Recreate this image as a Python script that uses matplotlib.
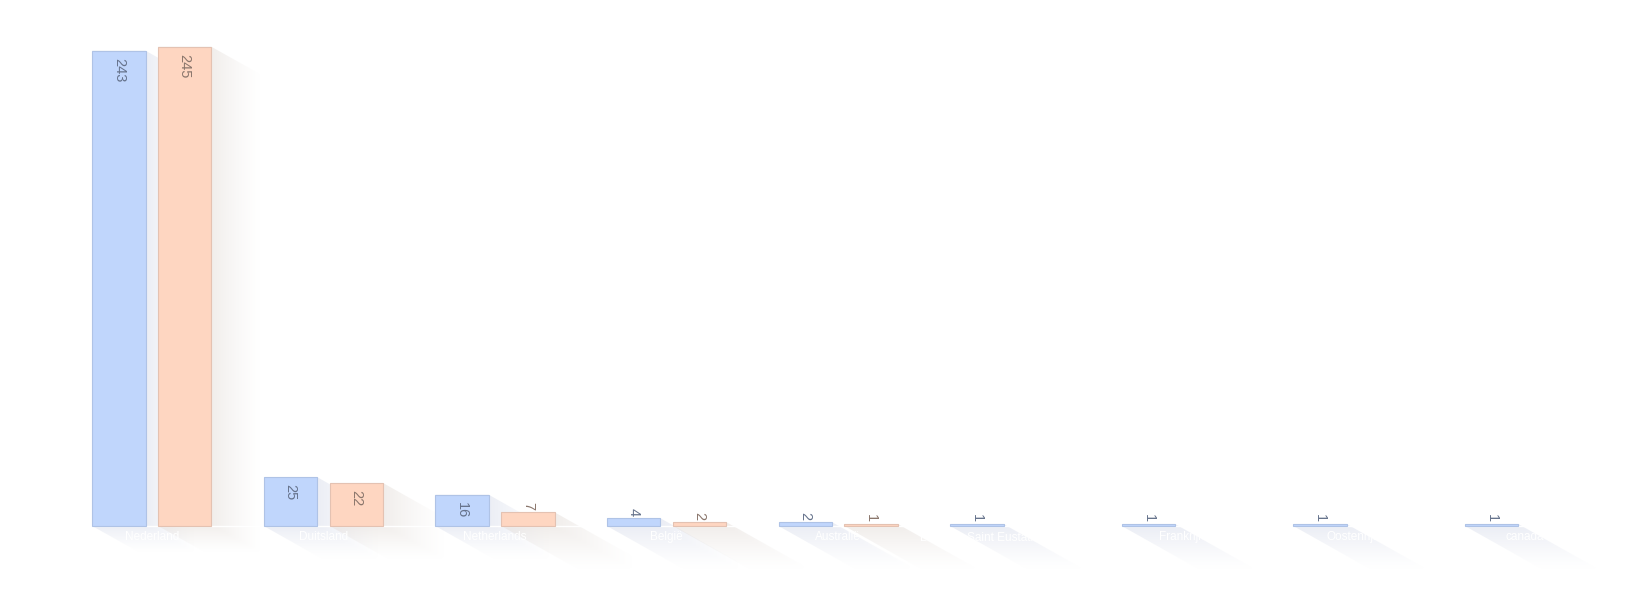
import numpy as np
import matplotlib
matplotlib.use("Agg")
import matplotlib.pyplot as plt
from matplotlib.patches import Polygon

categories = ["Nederland", "Duitsland", "Netherlands", "België", "Australië",
              "Bonaire, Saint Eustatius and Saba", "Frankrijk", "Oostenrijk", "canada"]
series_a = [243, 25, 16, 4, 2, 1, 1, 1, 1]
series_b = [245, 22, 7, 2, 1, 0, 0, 0, 0]

W, H = 1641, 601
fig = plt.figure(figsize=(W / 100, H / 100), dpi=100)
ax = fig.add_axes([0, 0, 1, 1])
ax.set_axis_off()

c0, band = 151.8, 171.6      # px of first category centre, px per category
base, ppu = 75.0, 1.956      # baseline px from bottom, px per unit
ax.set_xlim(-c0 / band, (W - c0) / band)
ax.set_ylim(-base / ppu, (H - base) / ppu)

bw = 0.311
off = 0.192
x = np.arange(len(categories))

styles = [
    dict(fc="#c0d6fc", ec="#afc3e6", lc="#66738c", sc=(0.84, 0.86, 0.92)),
    dict(fc="#fed6c1", ec="#e4c2b2", lc="#8a766c", sc=(0.89, 0.86, 0.84)),
]

def shadow(x0, x1, h, col):
    if h * ppu > 150:
        dxp, dyp = 50.0, 28.0
    elif h * ppu > 25:
        dxp, dyp = 62.0, 35.0
    else:
        dxp, dyp = 80.0, 45.0
    dx, dy = dxp / band, dyp / ppu
    y0, y1 = 0.0, h
    pts = [(x0, y1), (x1, y1), (x1 + dx, y1 - dy), (x1 + dx, y0 - dy),
           (x0 + dx, y0 - dy), (x0, y0)]
    poly = Polygon(pts, closed=True, fc="none", ec="none")
    ax.add_patch(poly)
    xs = np.linspace(x0, x1 + dx, 120)
    ys = np.linspace(y0 - dy, y1, max(20, int((y1 - y0 + dy) * ppu / 3)))
    X, Y = np.meshgrid(xs, ys)
    t = np.maximum((X - x1) / dx, (y0 - Y) / dy)
    t = np.clip(t, 0, 1)
    a = 0.48 * (1 - t) ** 1.3
    img = np.zeros(X.shape + (4,))
    img[..., 0], img[..., 1], img[..., 2] = col
    img[..., 3] = a
    im = ax.imshow(img, extent=(x0, x1 + dx, y0 - dy, y1), origin="lower",
                   aspect="auto", interpolation="bilinear", zorder=1)
    im.set_clip_path(poly)

for vals, sgn, st in [(series_a, -1, styles[0]), (series_b, 1, styles[1])]:
    for i, v in enumerate(vals):
        if v <= 0:
            continue
        cx = x[i] + sgn * off
        shadow(cx - bw / 2, cx + bw / 2, v, st["sc"])

for vals, sgn, st in [(series_a, -1, styles[0]), (series_b, 1, styles[1])]:
    xs = [x[i] + sgn * off for i, v in enumerate(vals) if v > 0]
    vs = [v for v in vals if v > 0]
    ax.bar(xs, vs, width=bw, color=st["fc"], edgecolor=st["ec"], linewidth=0.8, zorder=3)
    for cx, v in zip(xs, vs):
        hpx = v * ppu
        lab = str(v)
        llen = 7.7 * len(lab)
        if hpx >= llen + 10:
            ax.text(cx, v - 7 / ppu, lab, rotation=-90, ha="center", va="top",
                    fontsize=10.5, color=st["lc"], family="Liberation Sans", zorder=4)
        else:
            ax.text(cx, v + 2 / ppu, lab, rotation=-90, ha="center", va="bottom",
                    fontsize=10.5, color=st["lc"], family="Liberation Sans", zorder=4)

# white axis line and white category labels
ax.plot([-0.5, len(categories) - 0.5], [0, 0], color="white", lw=1, zorder=2)
for i, c in enumerate(categories):
    ax.text(x[i], -11 / ppu, c, ha="center", va="center", fontsize=8.5,
            color="white", family="Liberation Sans", zorder=2)

fig.savefig("out.png", dpi=100, facecolor="white")
